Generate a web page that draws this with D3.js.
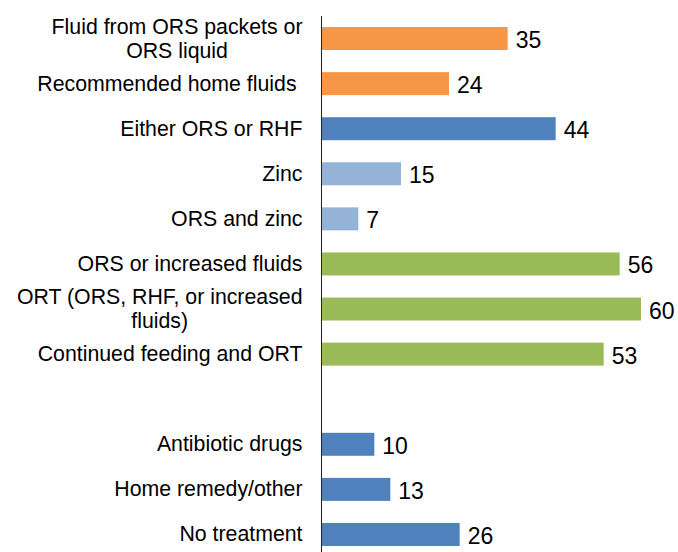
<!DOCTYPE html>
<html>
<head>
<meta charset="utf-8">
<script src="https://cdn.jsdelivr.net/npm/d3@7"></script>
<style>
  html, body { margin: 0; padding: 0; background: #fff; }
  svg { display: block; }
  .cat text { white-space: pre; }
</style>
</head>
<body>
<svg id="chart" width="678" height="552"></svg>
<script>
// Diarrhoea treatment indicators (percent)
const categories = [
  ["Fluid from ORS packets or", "ORS liquid"],
  ["Recommended home fluids "],
  ["Either ORS or RHF"],
  ["Zinc"],
  ["ORS and zinc"],
  ["ORS or increased fluids"],
  ["ORT (ORS, RHF, or increased", "fluids)"],
  ["Continued feeding and ORT"],
  [],
  ["Antibiotic drugs"],
  ["Home remedy/other"],
  ["No treatment"]
];
const values = [35, 24, 44, 15, 7, 56, 60, 53, null, 10, 13, 26];
const groups = ["ors", "ors", "either", "zinc", "zinc", "ort", "ort", "ort", "none", "other", "other", "other"];

const groupColors = {
  ors: "#F79646",
  either: "#4F81BD",
  zinc: "#95B3D7",
  ort: "#9BBB59",
  other: "#4F81BD",
  none: "none"
};

const svg = d3.select("#chart");
const axisX = 321;
const labelRight = 302.5;

const x = d3.scaleLinear().domain([0, 60]).range([axisX, 641]);
const y = d3.scaleBand()
  .domain(d3.range(categories.length))
  .range([16, 557])
  .paddingInner(0.49)
  .paddingOuter(0.245);

const rows = categories.map((c, i) => ({ lines: c, value: values[i], group: groups[i], i }));
const drawn = rows.filter(d => d.value != null);

// Bars
svg.append("g")
  .selectAll("rect")
  .data(drawn)
  .join("rect")
  .attr("x", x(0))
  .attr("y", d => y(d.i))
  .attr("width", d => x(d.value) - x(0))
  .attr("height", y.bandwidth())
  .attr("fill", d => groupColors[d.group]);

// Value labels
svg.append("g")
  .selectAll("text")
  .data(drawn)
  .join("text")
  .attr("x", d => x(d.value) + 8)
  .attr("y", d => y(d.i) + y.bandwidth() / 2 + 9.5)
  .attr("font-family", "Liberation Sans, Arial, sans-serif")
  .attr("font-size", 23)
  .attr("fill", "#000")
  .text(d => d.value);

// Category labels: lines centred within a block that is right-aligned to the axis
const lineH = 24;
const labelG = svg.append("g")
  .attr("class", "cat")
  .attr("font-family", "Liberation Sans, Arial, sans-serif")
  .attr("font-size", 21.3)
  .attr("fill", "#000");

rows.filter(d => d.lines.length).forEach(d => {
  const g = labelG.append("g");
  const cy = y(d.i) + y.bandwidth() / 2;
  const n = d.lines.length;
  const texts = d.lines.map((line, k) =>
    g.append("text")
      .attr("y", cy + (k - (n - 1) / 2) * lineH + 7)
      .text(line)
  );
  const widths = texts.map(t => t.node().getComputedTextLength());
  const maxW = d3.max(widths);
  const centre = labelRight - maxW / 2;
  texts.forEach(t => t.attr("x", centre).attr("text-anchor", "middle"));
});

// Vertical category axis line
svg.append("line")
  .attr("x1", axisX + 0.5).attr("x2", axisX + 0.5)
  .attr("y1", 16).attr("y2", 552)
  .attr("stroke", "#222")
  .attr("stroke-width", 1);
</script>
</body>
</html>
